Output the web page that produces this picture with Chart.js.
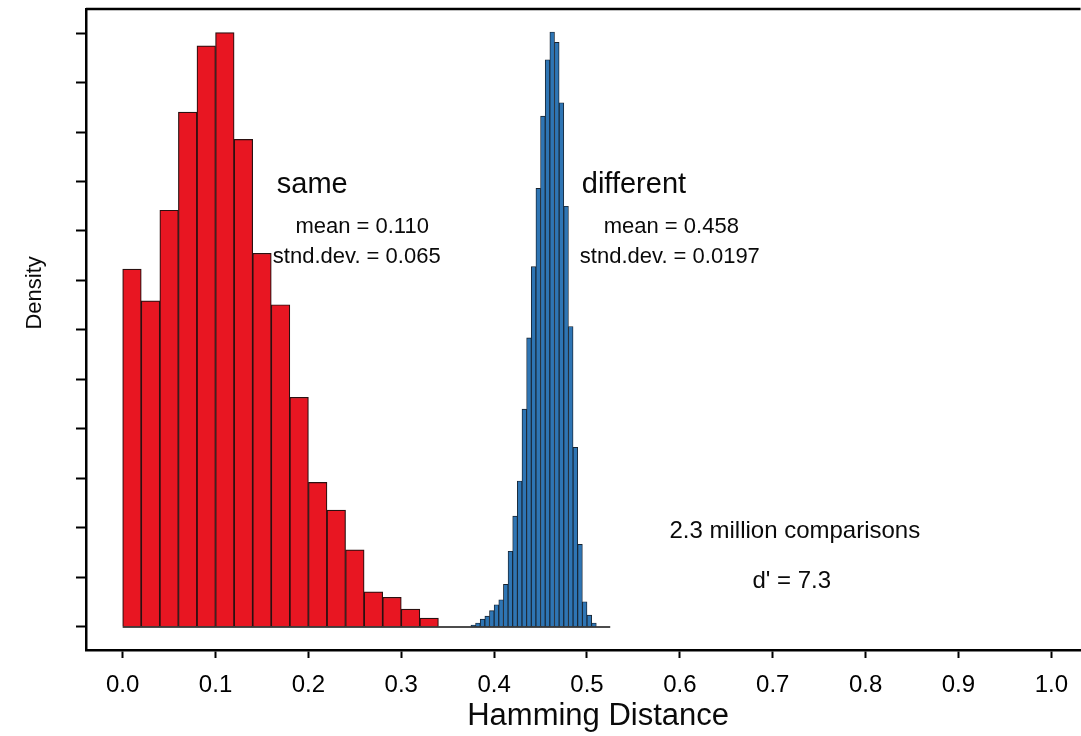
<!DOCTYPE html>
<html>
<head>
<meta charset="utf-8">
<title>Hamming Distance</title>
<script src="https://cdn.jsdelivr.net/npm/chart.js@4.4.1/dist/chart.umd.min.js"></script>
<style>
  html, body { margin: 0; padding: 0; background: #fff; }
  #chart { display: block; }
</style>
</head>
<body>
<canvas id="chart" width="1081" height="736"></canvas>
<script>
// tick marks (y ticks carry no labels in the original)
const xTicks = [0, 0.1, 0.2, 0.3, 0.4, 0.5, 0.6, 0.7, 0.8, 0.9, 1.0];
const yTicks = [0, 1, 2, 3, 4, 5, 6, 7, 8, 9, 10, 11, 12];

// "same" comparisons, 0.02 wide bins starting at 0.0
const sameBinStart = 0;
const sameBinWidth = 0.02;
const sameDensity = [7.23, 6.59, 8.42, 10.40, 11.74, 12.01, 9.85, 7.55, 6.51,
                     4.64, 2.92, 2.36, 1.56, 0.71, 0.60, 0.36, 0.18];

// "different" comparisons, 0.005 wide bins starting at 0.375
const diffBinStart = 0.375;
const diffBinWidth = 0.005;
const diffDensity = [0.04, 0.08, 0.16, 0.22, 0.33, 0.45, 0.55, 0.86, 1.53, 2.24,
                     2.95, 4.40, 5.84, 7.28, 8.86, 10.32, 11.46, 12.02, 11.81, 10.59,
                     8.50, 6.07, 3.63, 1.67, 0.51, 0.24, 0.08];

// extent of the baseline drawn under both histograms
const baselineRange = [0, 0.525];

const FONT = '"Liberation Sans", Arial, Helvetica, sans-serif';

// axis window, chosen so the frame sits where it does in the original
const X_MIN = -0.0395, X_MAX = 1.0315;
const Y_MIN = -0.465, Y_MAX = 12.485;

// text placed in data coordinates
const notes = [
  { text: 'same', x: 0.166, y: 8.77, size: 29 },
  { text: 'mean = 0.110', x: 0.186, y: 7.96, size: 22 },
  { text: 'stnd.dev. = 0.065', x: 0.1617, y: 7.35, size: 22 },
  { text: 'different', x: 0.4944, y: 8.77, size: 29 },
  { text: 'mean = 0.458', x: 0.518, y: 7.96, size: 22 },
  { text: 'stnd.dev. = 0.0197', x: 0.4923, y: 7.35, size: 22 },
  { text: '2.3 million comparisons', x: 0.7238, y: 1.80, size: 24, align: 'center' },
  { text: "d' = 7.3", x: 0.7205, y: 0.79, size: 24, align: 'center' }
];

const toBins = (start, width, values) =>
  values.map((v, i) => ({ x: start + width * (i + 0.5), y: v }));

const framePlugin = {
  id: 'frame',
  afterDraw(chart) {
    const { ctx, chartArea, scales: { x, y } } = chart;
    ctx.save();

    // top edge of the box (left and bottom come from the axis borders)
    ctx.strokeStyle = '#000';
    ctx.lineWidth = 2.5;
    ctx.beginPath();
    ctx.moveTo(chartArea.left, chartArea.top);
    ctx.lineTo(chartArea.right, chartArea.top);
    ctx.stroke();

    ctx.fillStyle = '#0a0a0a';
    ctx.textBaseline = 'alphabetic';
    notes.forEach(n => {
      ctx.font = `${n.size}px ${FONT}`;
      ctx.textAlign = n.align || 'left';
      ctx.fillText(n.text, x.getPixelForValue(n.x), y.getPixelForValue(n.y));
    });

    // axis titles
    ctx.textAlign = 'center';
    ctx.font = `31px ${FONT}`;
    ctx.fillText('Hamming Distance', x.getPixelForValue(0.512), chartArea.bottom + 75);

    ctx.save();
    ctx.font = `22px ${FONT}`;
    ctx.textBaseline = 'middle';
    ctx.translate(35, y.getPixelForValue(6.75));
    ctx.rotate(-Math.PI / 2);
    ctx.fillText('Density', 0, 0);
    ctx.restore();

    ctx.restore();
  }
};

new Chart(document.getElementById('chart'), {
  type: 'bar',
  data: {
    datasets: [
      {
        type: 'line',
        label: 'baseline',
        xAxisID: 'x',
        data: [{ x: baselineRange[0], y: 0 }, { x: baselineRange[1], y: 0 }],
        borderColor: '#111',
        borderWidth: 1.5,
        pointRadius: 0,
        order: 0
      },
      {
        label: 'same',
        xAxisID: 'x',
        data: toBins(sameBinStart, sameBinWidth, sameDensity),
        backgroundColor: 'rgb(232, 22, 34)',
        borderColor: '#2a1010',
        borderWidth: 1.2,
        grouped: false,
        barPercentage: 1,
        categoryPercentage: 1,
        order: 1
      },
      {
        label: 'different',
        xAxisID: 'x2',
        data: toBins(diffBinStart, diffBinWidth, diffDensity),
        backgroundColor: 'rgb(46, 117, 180)',
        borderColor: '#17222e',
        borderWidth: 0.9,
        grouped: false,
        barPercentage: 1,
        categoryPercentage: 1,
        order: 1
      }
    ]
  },
  options: {
    responsive: false,
    devicePixelRatio: 1,
    animation: false,
    layout: { padding: { top: 9, right: 0, bottom: 0, left: 0 } },
    plugins: {
      legend: { display: false },
      tooltip: { enabled: false }
    },
    scales: {
      x: {
        type: 'linear',
        min: X_MIN,
        max: X_MAX,
        offset: false,
        afterBuildTicks: s => { s.ticks = xTicks.map(v => ({ value: v })); },
        afterFit: s => { s.height = 86; },
        border: { display: true, color: '#000', width: 2.5 },
        grid: {
          offset: false,
          drawOnChartArea: false,
          drawTicks: true,
          tickLength: 8,
          tickWidth: 2,
          tickColor: '#000'
        },
        ticks: {
          autoSkip: false,
          maxRotation: 0,
          padding: 13,
          color: '#000',
          font: { family: FONT, size: 24 },
          callback: v => v.toFixed(1)
        }
      },
      x2: {
        type: 'linear',
        display: false,
        min: X_MIN,
        max: X_MAX,
        offset: false,
        grid: { offset: false }
      },
      y: {
        type: 'linear',
        min: Y_MIN,
        max: Y_MAX,
        afterBuildTicks: s => { s.ticks = yTicks.map(v => ({ value: v })); },
        afterFit: s => { s.width = 86; },
        border: { display: true, color: '#000', width: 2.5 },
        grid: {
          drawOnChartArea: false,
          drawTicks: true,
          tickLength: 10,
          tickWidth: 2,
          tickColor: '#000'
        },
        ticks: { display: false }
      }
    }
  },
  plugins: [framePlugin]
});
</script>
</body>
</html>
